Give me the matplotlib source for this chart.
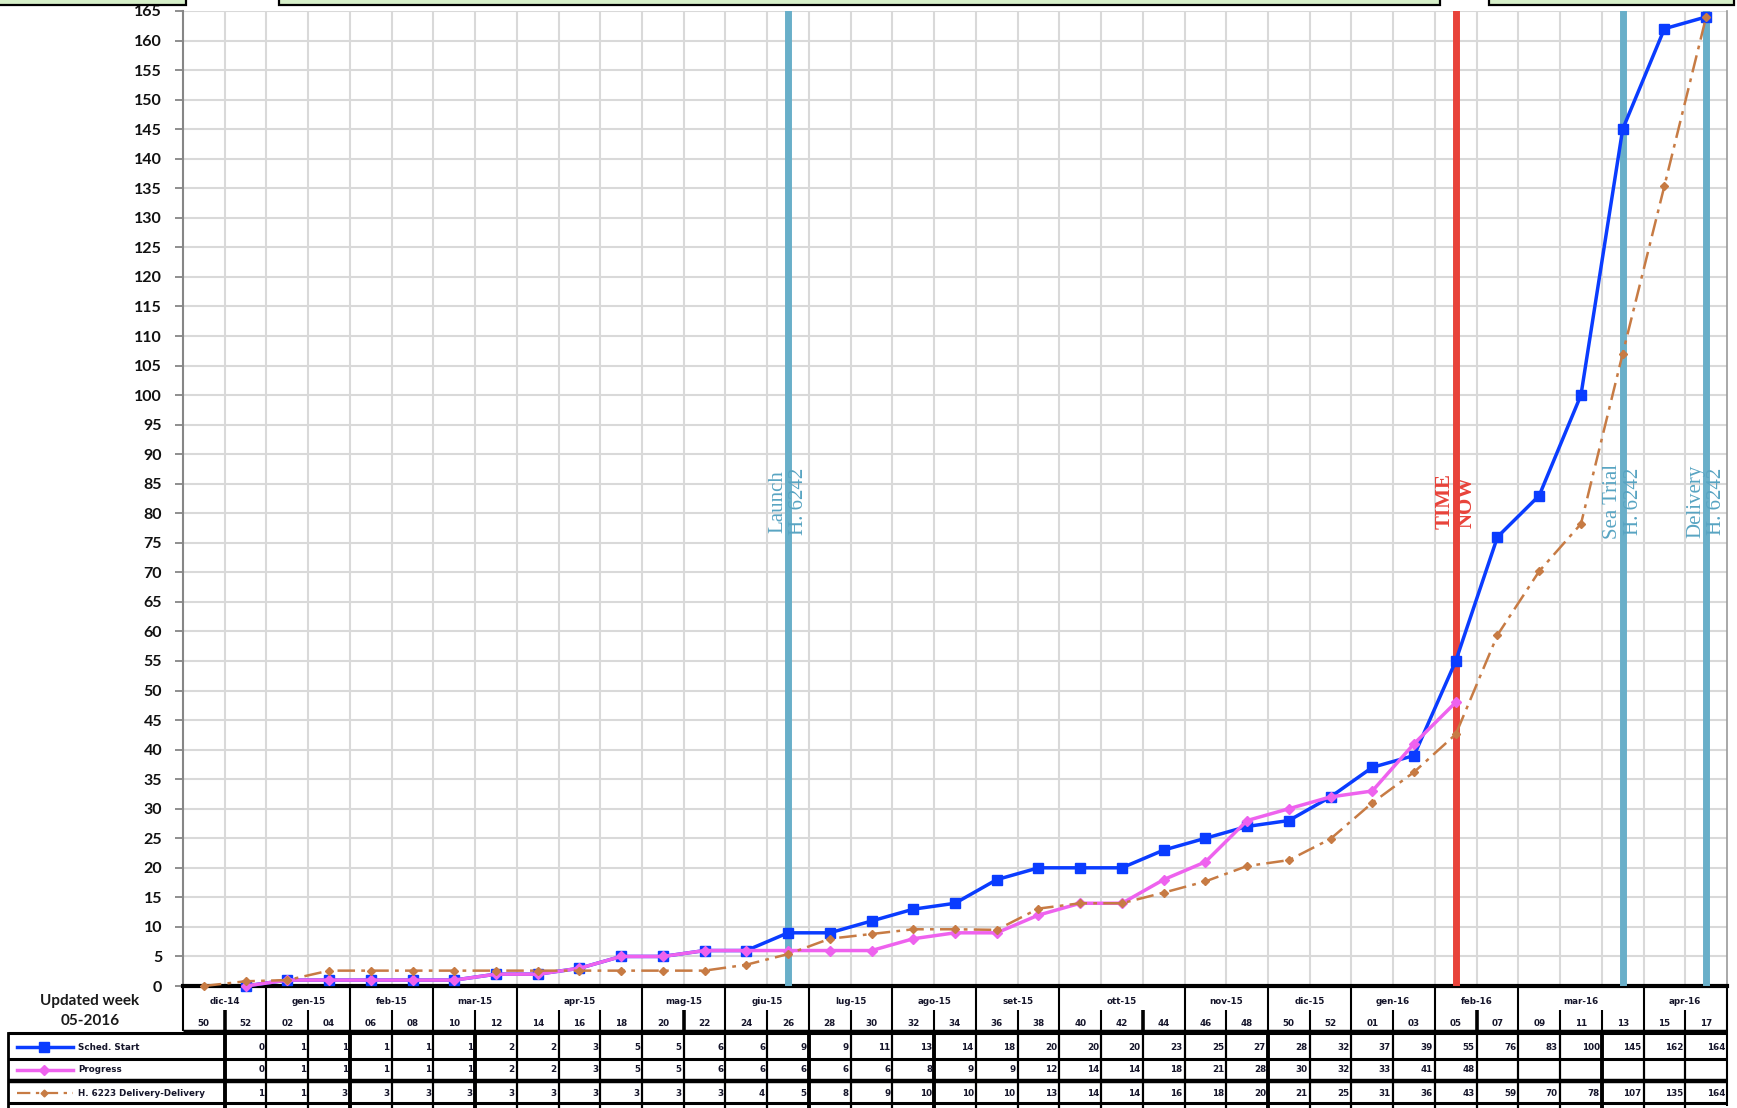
import numpy as np
import matplotlib
matplotlib.use("Agg")
import matplotlib.pyplot as plt
from matplotlib.lines import Line2D
from matplotlib.patches import Rectangle
from matplotlib.transforms import blended_transform_factory
from matplotlib import font_manager

# ---------------- data ----------------
weeks = ["50", "52", "02", "04", "06", "08", "10", "12", "14", "16", "18", "20", "22",
         "24", "26", "28", "30", "32", "34", "36", "38", "40", "42", "44", "46", "48",
         "50", "52", "01", "03", "05", "07", "09", "11", "13", "15", "17"]
months = ["dic-14", "gen-15", "feb-15", "mar-15", "apr-15", "mag-15", "giu-15", "lug-15",
          "ago-15", "set-15", "ott-15", "nov-15", "dic-15", "gen-16", "feb-16", "mar-16", "apr-16"]
month_sizes = [2, 2, 2, 2, 3, 2, 2, 2, 2, 2, 3, 2, 2, 2, 2, 3, 2]

sched_start = [None, 0, 1, 1, 1, 1, 1, 2, 2, 3, 5, 5, 6, 6, 9, 9, 11, 13, 14, 18, 20, 20,
               20, 23, 25, 27, 28, 32, 37, 39, 55, 76, 83, 100, 145, 162, 164]
progress = [None, 0, 1, 1, 1, 1, 1, 2, 2, 3, 5, 5, 6, 6, 6, 6, 6, 8, 9, 9, 12, 14, 14,
            18, 21, 28, 30, 32, 33, 41, 48, None, None, None, None, None, None]
delivery_6223 = [0, 0.8, 1.0, 2.6, 2.6, 2.6, 2.6, 2.6, 2.6, 2.6, 2.6, 2.6, 2.6, 3.6, 5.4,
                 8.0, 8.8, 9.6, 9.6, 9.5, 13.1, 14.0, 14.0, 15.8, 17.7, 20.3, 21.3, 24.9,
                 31.0, 36.2, 42.6, 59.4, 70.2, 78.2, 107.0, 135.4, 164.0]
series_names = ["Sched. Start", "Progress", "H. 6223 Delivery-Delivery"]

event_labels = ["Launch\nH. 6242", "TIME\nNOW", "Sea Trial\nH. 6242", "Delivery\nH. 6242"]
event_index = [14, 30, 34, 36]
event_kind = ["milestone", "now", "milestone", "milestone"]

updated_text = ["Updated week", "05-2016"]

# ---------------- style ----------------
BLUE = "#0A3CFF"
MAGENTA = "#EE62EE"
BROWN = "#C77B44"
TEAL = "#69AFC9"
TEAL_TXT = "#58A4C2"
RED = "#E8433A"
GRID = "#D9D9D9"
TXT = "#15152a"


def has_font(name):
    try:
        font_manager.findfont(font_manager.FontProperties(family=name), fallback_to_default=False)
        return True
    except Exception:
        return False


NARROW = "Liberation Sans Narrow" if has_font("Liberation Sans Narrow") else "DejaVu Sans"
NSIZE = 8 if NARROW != "DejaVu Sans" else 6.3
BOLD = "Lato" if has_font("Lato") else "DejaVu Sans"
SERIF = "Liberation Serif"

W, H = 1737, 1108
L, R, T, B = 183, 1727, 11, 986


def fx(px):
    return px / W


def fy(py):
    return 1 - py / H


fig = plt.figure(figsize=(W / 100, H / 100), dpi=100)
ax = fig.add_axes([fx(L), fy(B), fx(R - L), (B - T) / H])

x = np.arange(len(weeks))


def arr(v):
    return np.array([np.nan if a is None else a for a in v], dtype=float)


s1, s2, s3 = arr(sched_start), arr(progress), arr(delivery_6223)

ax.set_xlim(-0.5, len(weeks) - 0.5)
ax.set_ylim(0, 165)
ax.set_axisbelow(True)

ax.set_xticks([])
ax.set_xticks(np.arange(0.5, len(weeks) - 1, 1), minor=True)
ax.tick_params(axis="x", which="both", length=0, labelbottom=False)
ax.grid(which="minor", axis="x", color=GRID, lw=1.5)
ax.set_yticks(np.arange(0, 166, 5))
ax.grid(which="major", axis="y", color=GRID, lw=1.5)
ax.tick_params(axis="y", length=6, width=1.3, color="#868686", pad=9)
for lab in ax.get_yticklabels():
    lab.set_fontfamily(BOLD)
    lab.set_fontweight("bold")
    lab.set_fontsize(11.5)
    lab.set_color("#111111")

ax.spines["top"].set_visible(False)
ax.spines["left"].set_color("#868686")
ax.spines["left"].set_linewidth(1.5)
ax.spines["right"].set_color("#9A9A9A")
ax.spines["right"].set_linewidth(1.2)
ax.spines["bottom"].set_color("black")
ax.spines["bottom"].set_linewidth(3)

# event lines
for lab, idx, kind in zip(event_labels, event_index, event_kind):
    col = RED if kind == "now" else TEAL
    tcol = RED if kind == "now" else TEAL_TXT
    ax.axvline(idx, color=col, lw=5, zorder=3)
    ax.text(idx, 82, lab, rotation=90, ha="center", va="center", multialignment="center",
            fontsize=15, family=SERIF, color=tcol, zorder=4, linespacing=1.15,
            fontweight="bold" if kind == "now" else "normal")

# series
ax.plot(x, s1, color=BLUE, lw=2.5, marker="s", ms=7.5, zorder=6, clip_on=False)
ax.plot(x, s2, color=MAGENTA, lw=2.5, marker="D", ms=5.5, zorder=7, clip_on=False)
ax.plot(x, s3, color=BROWN, lw=1.8, ls=(0, (7, 2.5, 1.5, 2.5)), marker="D", ms=4,
        zorder=8, clip_on=False)

# ---------------- top boxes ----------------
for x0, x1 in [(-10, 186), (279, 1440), (1489, 1734)]:
    fig.add_artist(Rectangle((fx(x0), fy(5)), fx(x1 - x0), 0.05, facecolor="#D6F0C9",
                             edgecolor="black", lw=1.6, transform=fig.transFigure, zorder=10))

# ---------------- data table ----------------
tr = blended_transform_factory(ax.transData, fig.transFigure)
tra = blended_transform_factory(ax.transAxes, fig.transFigure)


def hline_fig(x0, x1, py, lw):
    fig.add_artist(Line2D([fx(x0), fx(x1)], [fy(py), fy(py)], color="black", lw=lw,
                          transform=fig.transFigure, solid_capstyle="butt"))


def vline_data(xd, py0, py1, lw):
    fig.add_artist(Line2D([xd, xd], [fy(py0), fy(py1)], color="black", lw=lw,
                          transform=tr, solid_capstyle="butt"))


# header
hdr_top, hdr_mid, hdr_bot = 988, 1010, 1031
vline_data(-0.5, hdr_top, hdr_bot, 1.5)
fig.add_artist(Line2D([0, 1], [fy(hdr_bot), fy(hdr_bot)], color="black", lw=2.5,
                      transform=tra, solid_capstyle="butt"))
start = 0
for m, n in zip(months, month_sizes):
    if start > 0:
        vline_data(start - 0.5, hdr_top, hdr_bot, 1.5)
    fig.text(start + (n - 1) / 2, fy(1002), m, transform=tr, ha="center", va="center",
             fontsize=NSIZE, family=NARROW, fontweight="bold", color=TXT)
    for k in range(n - 1):
        b = start + k + 0.5
        vline_data(b, hdr_mid, hdr_bot, 2.6 if b in (0.5, 11.5, 22.5, 30.5) else 1.5)
    start += n
vline_data(len(weeks) - 0.5, hdr_top, 1106, 1.5)
for i, wk in enumerate(weeks):
    fig.text(i, fy(1023), wk, transform=tr, ha="center", va="center",
             fontsize=NSIZE, family=NARROW, fontweight="bold", color=TXT)

for py, txt in zip([1001, 1021], updated_text):
    fig.text(fx(90), fy(py), txt, ha="center", va="center", fontsize=11,
             family=BOLD, fontweight="bold", color="#1a1a1a")

# rows
row_lines = [(1033, 2.2), (1059, 2.2), (1081, 3.2), (1103, 2.2)]
for py, lw in row_lines:
    hline_fig(8, R, py, lw)
fig.add_artist(Line2D([fx(8), fx(8)], [fy(1033), 0], color="black", lw=2,
                      transform=fig.transFigure))
thick = (0.5, 3.5, 6.5, 14.5, 17.5, 25.5, 33.5)
for b in np.arange(0.5, len(weeks) - 1, 1):
    vline_data(b, 1033, 1110, 2.8 if b in thick else 1.6)

row_centers = [1047, 1070, 1093]
sample_style = [dict(color=BLUE, lw=2.5, marker="s", ms=6.5),
                dict(color=MAGENTA, lw=2.5, marker="D", ms=5),
                dict(color=BROWN, lw=1.6, ls=(0, (6, 2.5, 1.5, 2.5)), marker="D", ms=3.5)]
for name, vals, pyc, st in zip(series_names, [s1, s2, s3], row_centers, sample_style):
    fig.add_artist(Line2D([fx(17), fx(73)], [fy(pyc), fy(pyc)], transform=fig.transFigure,
                          **{k: v for k, v in st.items() if k not in ("marker", "ms")}))
    fig.add_artist(Line2D([fx(44)], [fy(pyc)], transform=fig.transFigure, color=st["color"],
                          marker=st["marker"], ms=st["ms"], lw=0))
    fig.text(fx(78), fy(pyc), name, ha="left", va="center", fontsize=NSIZE,
             family=NARROW, fontweight="bold", color=TXT)
    for i, v in enumerate(vals):
        if i == 0 or np.isnan(v):
            continue
        fig.text(i + 0.45, fy(pyc), f"{int(round(v))}", transform=tr, ha="right",
                 va="center", fontsize=NSIZE, family=NARROW, fontweight="bold", color=TXT)

fig.savefig("out.png", dpi=100)
